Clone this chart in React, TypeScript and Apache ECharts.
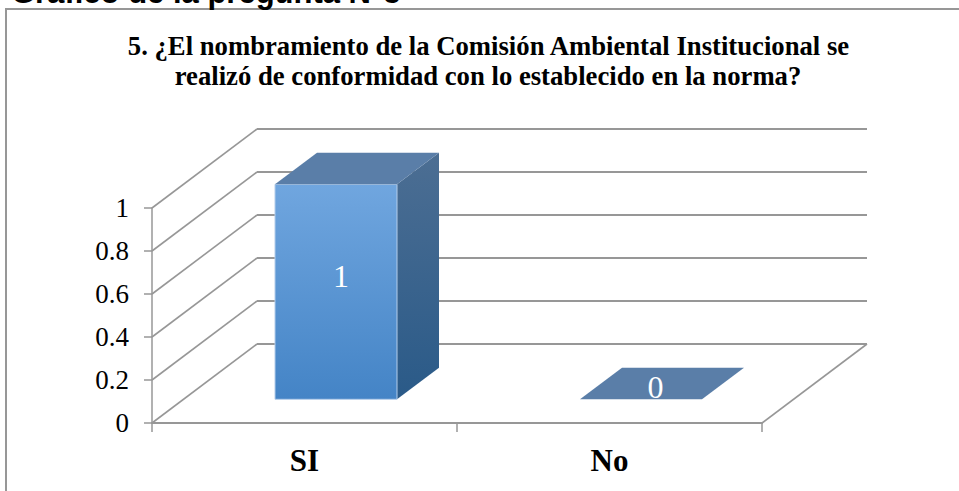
import React, { useEffect, useRef } from "react";
import * as echarts from "echarts";

const heading = "Gráfico de la pregunta N°5";
const titleLines = [
  "5. ¿El nombramiento de la Comisión Ambiental Institucional se",
  "realizó de conformidad con lo establecido en la norma?",
];
const categories = ["SI", "No"];
const values = [1, 0];
const gridValues = [0, 0.2, 0.4, 0.6, 0.8, 1];

const DX = 105;
const DY = -79;
const BAR_SHARE = 0.4;
const GRID_COLOR = "#979797";

function gridItem(params: any, api: any) {
  const v = api.value(0);
  const extent = params.coordSys;
  const [, y] = api.coord([0, v]);
  const x0 = extent.x;
  const x1 = extent.x + extent.width;
  const children: any[] = [
    {
      type: "line",
      shape: { x1: x0, y1: y, x2: x0 + DX, y2: y + DY },
      style: { stroke: GRID_COLOR, lineWidth: 1.6 },
    },
    {
      type: "line",
      shape: { x1: x0 + DX, y1: y + DY, x2: x1 + DX, y2: y + DY },
      style: { stroke: GRID_COLOR, lineWidth: 2 },
    },
  ];
  if (v === 0) {
    children.push({
      type: "line",
      shape: { x1, y1: y, x2: x1 + DX, y2: y + DY },
      style: { stroke: GRID_COLOR, lineWidth: 1.6 },
    });
  }
  return { type: "group", children };
}

function barItem(params: any, api: any) {
  const idx = api.value(0);
  const val = api.value(1);
  const base = api.coord([idx, 0]);
  const top = api.coord([idx, val]);
  const band = api.size([1, 0])[0];
  const w = band * BAR_SHARE;
  const ddx = DX * BAR_SHARE;
  const ddy = DY * BAR_SHARE;
  const shiftX = (DX - ddx) / 2;
  const shiftY = (DY - ddy) / 2;
  const l = base[0] - w / 2 + shiftX;
  const r = l + w;
  const b = base[1] + shiftY;
  const t = top[1] + shiftY;
  const border = "#b4cdea";
  const solid = b - t > 0.5;
  const children: any[] = [];
  if (solid) {
    children.push(
      {
        type: "polygon",
        shape: { points: [[r, t], [r + ddx, t + ddy], [r + ddx, b + ddy], [r, b]] },
        style: {
          fill: new echarts.graphic.LinearGradient(0, 0, 0, 1, [
            { offset: 0, color: "#4C6E93" },
            { offset: 1, color: "#2A5A88" },
          ]),
        },
      },
      {
        type: "rect",
        shape: { x: l, y: t, width: w, height: b - t },
        style: {
          fill: new echarts.graphic.LinearGradient(0, 0, 0, 1, [
            { offset: 0, color: "#70A6DF" },
            { offset: 1, color: "#4484C6" },
          ]),
          stroke: border,
          lineWidth: 1,
        },
      },
    );
  }
  children.push({
    type: "polygon",
    shape: { points: [[l, t], [r, t], [r + ddx, t + ddy], [l + ddx, t + ddy]] },
    style: { fill: "#5A7EA8" },
  });
  children.push({
    type: "text",
    x: solid ? (l + r) / 2 + 5 : (l + r) / 2 + 14.5,
    y: solid ? (t + b) / 2 + ddy / 2 : t + ddy / 2 + 3.5,
    style: {
      text: String(val),
      fill: "#ffffff",
      font: '32px "Liberation Serif"',
      align: "center",
      verticalAlign: "middle",
    },
  });
  return { type: "group", children };
}

export default function App() {
  const ref = useRef<HTMLDivElement>(null);
  useEffect(() => {
    const chart = echarts.init(ref.current!, null, { renderer: "svg" });
    chart.setOption({
      animation: false,
      backgroundColor: "#ffffff",
      grid: { left: 152, right: 197, top: 208, bottom: 68 },
      xAxis: {
        type: "category",
        data: categories,
        axisLine: { lineStyle: { color: GRID_COLOR, width: 2 } },
        axisTick: { show: true, length: 9, lineStyle: { color: GRID_COLOR, width: 1.5 } },
        axisLabel: {
          margin: 22,
          color: "#000000",
          fontFamily: "Liberation Serif",
          fontWeight: "bold",
          fontSize: 31,
        },
      },
      yAxis: {
        type: "value",
        min: 0,
        max: 1,
        interval: 0.2,
        axisLine: { show: true, lineStyle: { color: GRID_COLOR, width: 1.5 } },
        axisTick: { show: true, length: 8, lineStyle: { color: GRID_COLOR, width: 1.5 } },
        splitLine: { show: false },
        axisLabel: {
          margin: 23,
          color: "#000000",
          fontFamily: "Liberation Serif",
          fontSize: 27,
        },
      },
      series: [
        {
          type: "custom",
          coordinateSystem: "cartesian2d",
          clip: false,
          silent: true,
          renderItem: gridItem,
          encode: { y: 0 },
          data: gridValues.map((v) => [v]),
          z: 1,
        },
        {
          type: "custom",
          coordinateSystem: "cartesian2d",
          clip: false,
          silent: true,
          renderItem: barItem,
          encode: { x: 0, y: 1 },
          data: values.map((v, i) => [i, v]),
          z: 2,
        },
      ],
      graphic: [
        {
          type: "polyline",
          shape: { points: [[6, 491], [6, 9], [959, 9]] },
          style: { stroke: "#979797", fill: "none", lineWidth: 2 },
        },
        {
          type: "text",
          x: 11,
          y: -23,
          style: {
            text: heading,
            fill: "#000000",
            font: 'bold 31px "Liberation Sans"',
          },
        },
        {
          type: "text",
          x: 488.5,
          y: 46,
          style: {
            text: titleLines[0],
            fill: "#000000",
            font: 'bold 26.7px "Liberation Serif"',
            align: "center",
            verticalAlign: "middle",
          },
        },
        {
          type: "text",
          x: 488,
          y: 76,
          style: {
            text: titleLines[1],
            fill: "#000000",
            font: 'bold 26.7px "Liberation Serif"',
            align: "center",
            verticalAlign: "middle",
          },
        },
      ],
    });
    return () => chart.dispose();
  }, []);
  return (
    <div
      ref={ref}
      style={{ position: "fixed", left: 0, top: 0, width: 959, height: 491 }}
    />
  );
}
